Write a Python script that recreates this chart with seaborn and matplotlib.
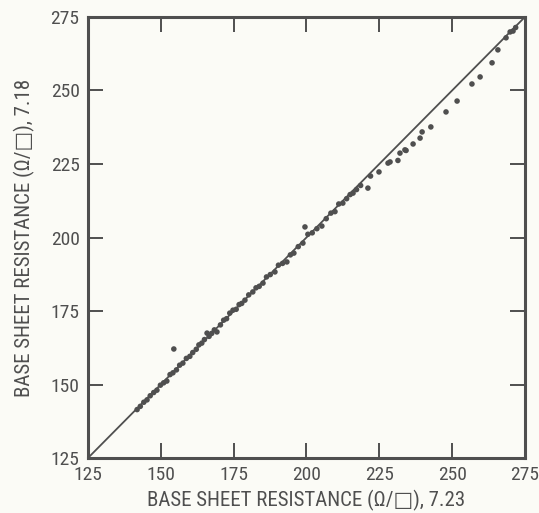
"""Base sheet resistance comparison: method 7.23 vs method 7.18."""

import matplotlib

matplotlib.use("Agg")
import matplotlib.pyplot as plt
import seaborn as sns

INK = "#4f4f4f"
PAPER = "#fbfbf6"
FONT = ["Roboto Condensed", "DejaVu Sans"]

# readings (ohm per square), x = method 7.23, y = method 7.18
R_723 = [
    141.9, 143.0, 144.2, 145.3, 146.4, 147.6, 148.7, 149.9, 151.0, 152.1,
    153.2, 154.2, 155.4, 156.5, 157.6, 158.8, 160.0, 161.0, 162.2, 163.1,
    164.1, 165.0, 165.9, 166.6, 167.5, 168.4, 169.3, 170.5, 171.6, 172.6,
    173.7, 174.8, 175.9, 176.9, 177.8, 178.9, 180.2, 181.6, 182.7, 183.8,
    185.1, 186.3, 187.6, 189.2, 190.4, 191.8, 193.3, 194.5, 195.7, 197.2,
    198.8, 200.5, 202.0, 203.6, 205.3, 206.8, 208.4, 209.8, 211.1, 212.5,
    213.8, 215.0, 216.0, 217.2, 218.6, 221.1, 222.0, 224.9, 228.0, 228.7,
    231.4, 232.1, 233.8, 234.2, 236.6, 239.0, 239.7, 242.7, 247.9, 251.7,
    256.8, 259.6, 263.7, 265.7, 268.5, 269.9, 270.9, 271.8, 154.5, 199.5,
]
R_718 = [
    141.5, 142.6, 144.0, 144.8, 146.2, 147.3, 148.1, 149.8, 150.6, 151.2,
    153.4, 154.0, 155.0, 156.6, 157.3, 158.9, 159.6, 160.9, 162.0, 163.5,
    164.1, 165.3, 167.5, 166.4, 167.4, 168.6, 167.9, 170.3, 171.9, 172.4,
    174.3, 175.3, 175.6, 177.2, 177.6, 178.7, 180.5, 181.5, 182.9, 183.4,
    184.5, 186.6, 187.4, 188.3, 190.6, 191.2, 191.7, 194.1, 194.7, 196.9,
    198.1, 201.1, 201.6, 203.0, 203.9, 206.4, 208.3, 208.8, 211.4, 211.7,
    213.2, 214.6, 215.1, 216.3, 217.7, 216.8, 220.9, 222.3, 225.3, 225.7,
    226.2, 228.7, 229.8, 229.6, 231.8, 233.8, 235.9, 237.6, 242.7, 246.4,
    252.2, 254.6, 259.4, 263.8, 267.9, 269.9, 270.2, 271.4, 162.1, 203.6,
]
AXIS_LIMITS = [125, 275]
TICKS = [125, 150, 175, 200, 225, 250, 275]

sns.set_theme(style="ticks", rc={"figure.facecolor": PAPER, "axes.facecolor": PAPER})
plt.rcParams["font.family"] = FONT

fig = plt.figure(figsize=(5.39, 5.13), dpi=100)
axis = fig.add_axes([0.163, 0.107, 0.811, 0.860])

axis.plot(AXIS_LIMITS, AXIS_LIMITS, color=INK, linewidth=1.3, zorder=2)
sns.scatterplot(
    x=R_723,
    y=R_718,
    ax=axis,
    color=INK,
    s=16,
    edgecolor="none",
    zorder=3,
    legend=False,
)

axis.set_xlim(AXIS_LIMITS)
axis.set_ylim(AXIS_LIMITS)
axis.set_xticks(TICKS)
axis.set_yticks(TICKS)
axis.tick_params(
    direction="in",
    length=11,
    width=1.4,
    color=INK,
    labelcolor=INK,
    labelsize=14,
    top=True,
    right=True,
    pad=6,
)
for spine in axis.spines.values():
    spine.set_visible(True)
    spine.set_color(INK)
    spine.set_linewidth(2.2)

axis.set_xlabel("BASE SHEET RESISTANCE (Ω/□), 7.23", fontsize=15, color=INK, labelpad=4)
axis.set_ylabel("BASE SHEET RESISTANCE (Ω/□), 7.18", fontsize=15, color=INK, labelpad=11)

fig.savefig("out.png", dpi=100, facecolor=PAPER)
